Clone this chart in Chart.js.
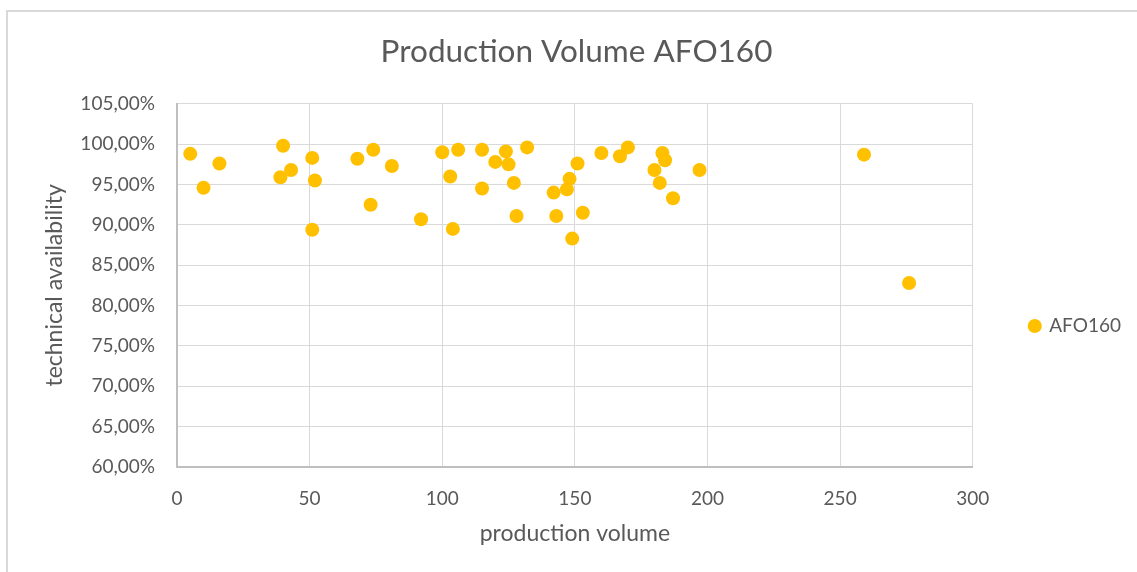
<!DOCTYPE html>
<html>
<head>
<meta charset="utf-8">
<title>Production Volume AFO160</title>
<script src="https://cdn.jsdelivr.net/npm/chart.js@4.4.1/dist/chart.umd.min.js"></script>
<style>
    html, body { margin: 0; padding: 0; background: #fff; }
    #wrap { position: relative; width: 1137px; height: 572px; }
    #frame {
        position: absolute; left: 6px; top: 10px; right: 0; bottom: 0;
        border-top: 2px solid #d9d9d9; border-left: 2px solid #d9d9d9;
    }
    canvas { position: absolute; left: 0; top: 0; }
</style>
</head>
<body>
<div id="wrap">
    <div id="frame"></div>
    <canvas id="chart" width="1137" height="572"></canvas>
</div>
<script>
// ─── Scatter: technical availability vs production volume ───

const SERIES_LABEL = 'AFO160';

// production volume (x) and technical availability in % (y)
const volume = [
    5, 10, 16, 39, 40, 43, 51, 51, 52, 68,
    73, 74, 81, 92, 100, 103, 104, 106, 115, 115,
    120, 124, 125, 127, 128, 132, 142, 143, 147, 148,
    149, 151, 153, 160, 167, 170, 180, 182, 183, 184,
    187, 197, 259, 276
];
const availability = [
    98.8, 94.6, 97.6, 95.9, 99.8, 96.8, 98.3, 89.4, 95.5, 98.2,
    92.5, 99.3, 97.3, 90.7, 99.0, 96.0, 89.5, 99.3, 99.3, 94.5,
    97.8, 99.1, 97.5, 95.2, 91.1, 99.6, 94.0, 91.1, 94.4, 95.7,
    88.3, 97.6, 91.5, 98.9, 98.5, 99.6, 96.8, 95.2, 98.9, 98.0,
    93.3, 96.8, 98.7, 82.8
];

const xTicks = [0, 50, 100, 150, 200, 250, 300];
const yTicks = [60, 65, 70, 75, 80, 85, 90, 95, 100, 105];

const FONT = 'Lato, "Open Sans", sans-serif';
const TEXT = '#595959';
const GRID = '#d9d9d9';
const POINT = '#ffc000';

const points = volume.map((v, i) => ({ x: v, y: availability[i] }));

function pct(v) {
    return v.toFixed(2).replace('.', ',') + '%';
}

const ctx = document.getElementById('chart');

new Chart(ctx, {
    type: 'scatter',
    data: {
        datasets: [{
            label: SERIES_LABEL,
            data: points,
            backgroundColor: POINT,
            borderColor: POINT,
            borderWidth: 0,
            pointRadius: 7,
            pointHoverRadius: 7
        }]
    },
    options: {
        responsive: false,
        animation: false,
        devicePixelRatio: 1,
        layout: { padding: { top: 10, left: 22, right: 6, bottom: 25 } },
        plugins: {
            title: {
                display: true,
                text: 'Production Volume AFO160',
                color: TEXT,
                font: { family: FONT, size: 31.5, weight: 'normal' },
                padding: { top: 23, bottom: 33 }
            },
            legend: {
                position: 'right',
                align: 'center',
                // empty title only pushes the single entry down a little
                title: {
                    display: true,
                    text: ' ',
                    font: { size: 10 },
                    padding: { top: 83, bottom: 0 }
                },
                labels: {
                    color: TEXT,
                    font: { family: FONT, size: 19 },
                    usePointStyle: true,
                    pointStyle: 'circle',
                    boxWidth: 10,
                    boxHeight: 10,
                    padding: 57
                }
            },
            tooltip: { enabled: false }
        },
        scales: {
            x: {
                type: 'linear',
                min: 0,
                max: 300,
                afterBuildTicks: axis => { axis.ticks = xTicks.map(v => ({ value: v })); },
                afterFit: axis => { axis.height = 80; },
                ticks: {
                    color: TEXT,
                    font: { family: FONT, size: 19 },
                    padding: 20
                },
                grid: { color: GRID, lineWidth: 1, drawTicks: false },
                border: { color: '#bfbfbf', width: 2 },
                title: {
                    display: true,
                    text: 'production volume',
                    color: TEXT,
                    font: { family: FONT, size: 23 },
                    padding: { top: 0, bottom: 0 }
                }
            },
            y: {
                type: 'linear',
                min: 60,
                max: 105,
                afterBuildTicks: axis => { axis.ticks = yTicks.map(v => ({ value: v })); },
                afterFit: axis => { axis.width = 155; },
                ticks: {
                    color: TEXT,
                    font: { family: FONT, size: 19 },
                    padding: 22,
                    callback: v => pct(v)
                },
                grid: { color: GRID, lineWidth: 1, drawTicks: false },
                border: { color: '#bfbfbf', width: 2 },
                title: {
                    display: true,
                    text: 'technical availability',
                    color: TEXT,
                    font: { family: FONT, size: 23 },
                    padding: { top: 19, bottom: 0 }
                }
            }
        }
    }
});
</script>
</body>
</html>
